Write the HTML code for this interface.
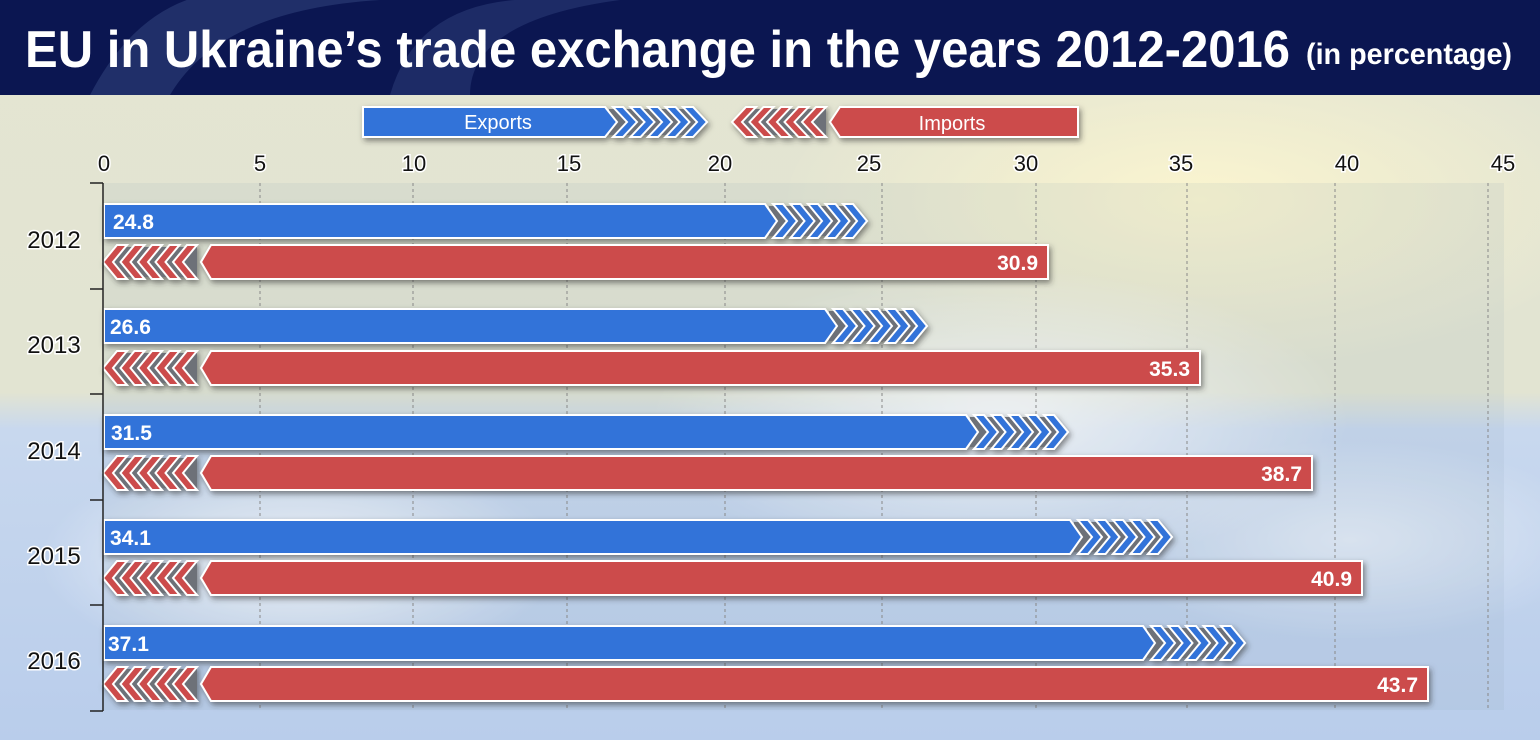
<!DOCTYPE html>
<html><head><meta charset="utf-8"><style>
html,body{margin:0;padding:0;width:1540px;height:740px;overflow:hidden;}
body{font-family:"Liberation Sans",sans-serif;}
</style></head><body>
<svg id="s" width="1540" height="740" viewBox="0 0 1540 740" xmlns="http://www.w3.org/2000/svg">
<defs>
<linearGradient id="bg" x1="0" y1="0" x2="0" y2="1">
<stop offset="0" stop-color="#e4e5d2"/><stop offset="0.53" stop-color="#e2e4d2"/><stop offset="0.58" stop-color="#c8d8ee"/><stop offset="1" stop-color="#b9cdeb"/></linearGradient>
<radialGradient id="cl" cx="0.5" cy="0.5" r="0.5"><stop offset="0" stop-color="#ffffff" stop-opacity="0.9"/><stop offset="1" stop-color="#ffffff" stop-opacity="0"/></radialGradient>
<radialGradient id="yl" cx="0.5" cy="0.5" r="0.5"><stop offset="0" stop-color="#fbf5cf" stop-opacity="1"/><stop offset="1" stop-color="#fbf5cf" stop-opacity="0"/></radialGradient>
<filter id="sh" x="-5%" y="-30%" width="110%" height="170%"><feDropShadow dx="2" dy="3" stdDeviation="3" flood-color="#333" flood-opacity="0.55"/></filter>
</defs>
<rect width="1540" height="740" fill="url(#bg)"/>
<ellipse cx="1200" cy="200" rx="420" ry="170" fill="url(#yl)"/>
<ellipse cx="1000" cy="420" rx="350" ry="150" fill="url(#cl)"/>
<ellipse cx="300" cy="560" rx="260" ry="110" fill="url(#cl)"/>
<ellipse cx="1350" cy="540" rx="250" ry="100" fill="url(#cl)" opacity="0.6"/>
<rect x="104" y="183" width="1400" height="527" fill="#8fa3b8" opacity="0.12"/>
<g id="grid" stroke="#888" stroke-width="1" stroke-dasharray="3,3"></g>
<rect width="1540" height="95" fill="#0b1651"/>
<path d="M90,95 Q160,-40 300,0 L380,0 Q220,10 170,95Z" fill="#2a3a74" opacity="0.7"/>
<path d="M390,95 Q420,-10 560,0 L620,0 Q470,20 470,95Z" fill="#2a3a74" opacity="0.6"/>
<text x="25" y="67" fill="#fff" font-size="52" font-weight="bold" textLength="1265" lengthAdjust="spacingAndGlyphs">EU in Ukraine’s trade exchange in the years 2012-2016</text>
<text x="1306" y="64" fill="#fff" font-size="30" font-weight="bold" textLength="206" lengthAdjust="spacingAndGlyphs">(in percentage)</text>
<g id="bars"></g>
<g font-size="22" fill="#111" text-anchor="middle" stroke="#fff" stroke-width="3" paint-order="stroke">
<text x="104" y="171">0</text><text x="260" y="171">5</text><text x="414" y="171">10</text><text x="569" y="171">15</text><text x="720" y="171">20</text><text x="869" y="171">25</text><text x="1026" y="171">30</text><text x="1181" y="171">35</text><text x="1347" y="171">40</text><text x="1503" y="171">45</text>
</g>
<g font-size="24" fill="#111" text-anchor="middle" stroke="#fff" stroke-width="3" paint-order="stroke">
<text x="54" y="248">2012</text><text x="54" y="353">2013</text><text x="54" y="459">2014</text><text x="54" y="564">2015</text><text x="54" y="669">2016</text>
</g>
<g stroke="#222" stroke-width="1.5" fill="none">
<path d="M103,183 V711"/>
<path d="M90,183H103M90,289H103M90,394H103M90,500H103M90,605H103M90,711H103"/>
</g>
<g font-size="21" font-weight="bold" fill="#fff">
<text x="113" y="229">24.8</text><text x="110" y="334">26.6</text><text x="111" y="440">31.5</text><text x="110" y="545">34.1</text><text x="108" y="651">37.1</text>
</g>
<g font-size="21" font-weight="bold" fill="#fff" text-anchor="end">
<text x="1038" y="270">30.9</text><text x="1190" y="376">35.3</text><text x="1302" y="481">38.7</text><text x="1352" y="586">40.9</text><text x="1418" y="692">43.7</text>
</g>
<g font-size="20" fill="#fff" text-anchor="middle">
<text x="498" y="129">Exports</text><text x="952" y="130">Imports</text>
</g>
</svg>
<script>
var NS="http://www.w3.org/2000/svg";
function el(p,t,a){var e=document.createElementNS(NS,t);for(var k in a)e.setAttribute(k,a[k]);p.appendChild(e);return e;}
var g=document.getElementById('grid');
[260,413,567,725,882,1036,1187,1335,1488].forEach(function(x){el(g,'line',{x1:x,y1:183,x2:x,y2:710});});
var B=document.getElementById('bars');
var BLUE='#3273d9',RED='#cc4c4c',GR='#6d7178';
function exp(x0,y,end,h){
  var grp=el(B,'g',{filter:'url(#sh)',stroke:'#fff','stroke-width':2});
  var se=end-100, m=y+h/2;
  el(grp,'polygon',{points:(se+4)+','+(y+2)+' '+(end-10)+','+(y+2)+' '+(end-2)+','+m+' '+(end-10)+','+(y+h-2)+' '+(se+4)+','+(y+h-2),fill:GR,stroke:'none'});
  el(grp,'polygon',{points:x0+','+y+' '+se+','+y+' '+(se+12)+','+m+' '+se+','+(y+h)+' '+x0+','+(y+h),fill:BLUE});
  for(var i=0;i<5;i++){var x=se+8+i*17.5;
    el(grp,'polygon',{points:x+','+y+' '+(x+10)+','+y+' '+(x+24)+','+m+' '+(x+10)+','+(y+h)+' '+x+','+(y+h)+' '+(x+14)+','+m,fill:BLUE});}
}
function imp(x0,y,end,h){
  var grp=el(B,'g',{filter:'url(#sh)',stroke:'#fff','stroke-width':2});
  var ss=x0+97, m=y+h/2;
  el(grp,'polygon',{points:(x0+10)+','+(y+2)+' '+(ss-4)+','+(y+2)+' '+(ss-4)+','+(y+h-2)+' '+(x0+10)+','+(y+h-2)+' '+(x0+2)+','+m,fill:GR,stroke:'none'});
  el(grp,'polygon',{points:(ss+10)+','+y+' '+end+','+y+' '+end+','+(y+h)+' '+(ss+10)+','+(y+h)+' '+ss+','+m,fill:RED});
  for(var i=0;i<5;i++){var x=ss-4-i*17.5;
    el(grp,'polygon',{points:x+','+y+' '+(x-10)+','+y+' '+(x-24)+','+m+' '+(x-10)+','+(y+h)+' '+x+','+(y+h)+' '+(x-14)+','+m,fill:RED});}
}
var ey=[204,309,415,520,626],iy=[245,351,456,561,667];
var ee=[865,925,1066,1170,1243],ie=[1048,1200,1312,1362,1428];
for(var i=0;i<5;i++){exp(104,ey[i],ee[i],34);imp(104,iy[i],ie[i],34);}
exp(363,107,705,30);
imp(733,107,1078,30);
</script>
</body></html>
